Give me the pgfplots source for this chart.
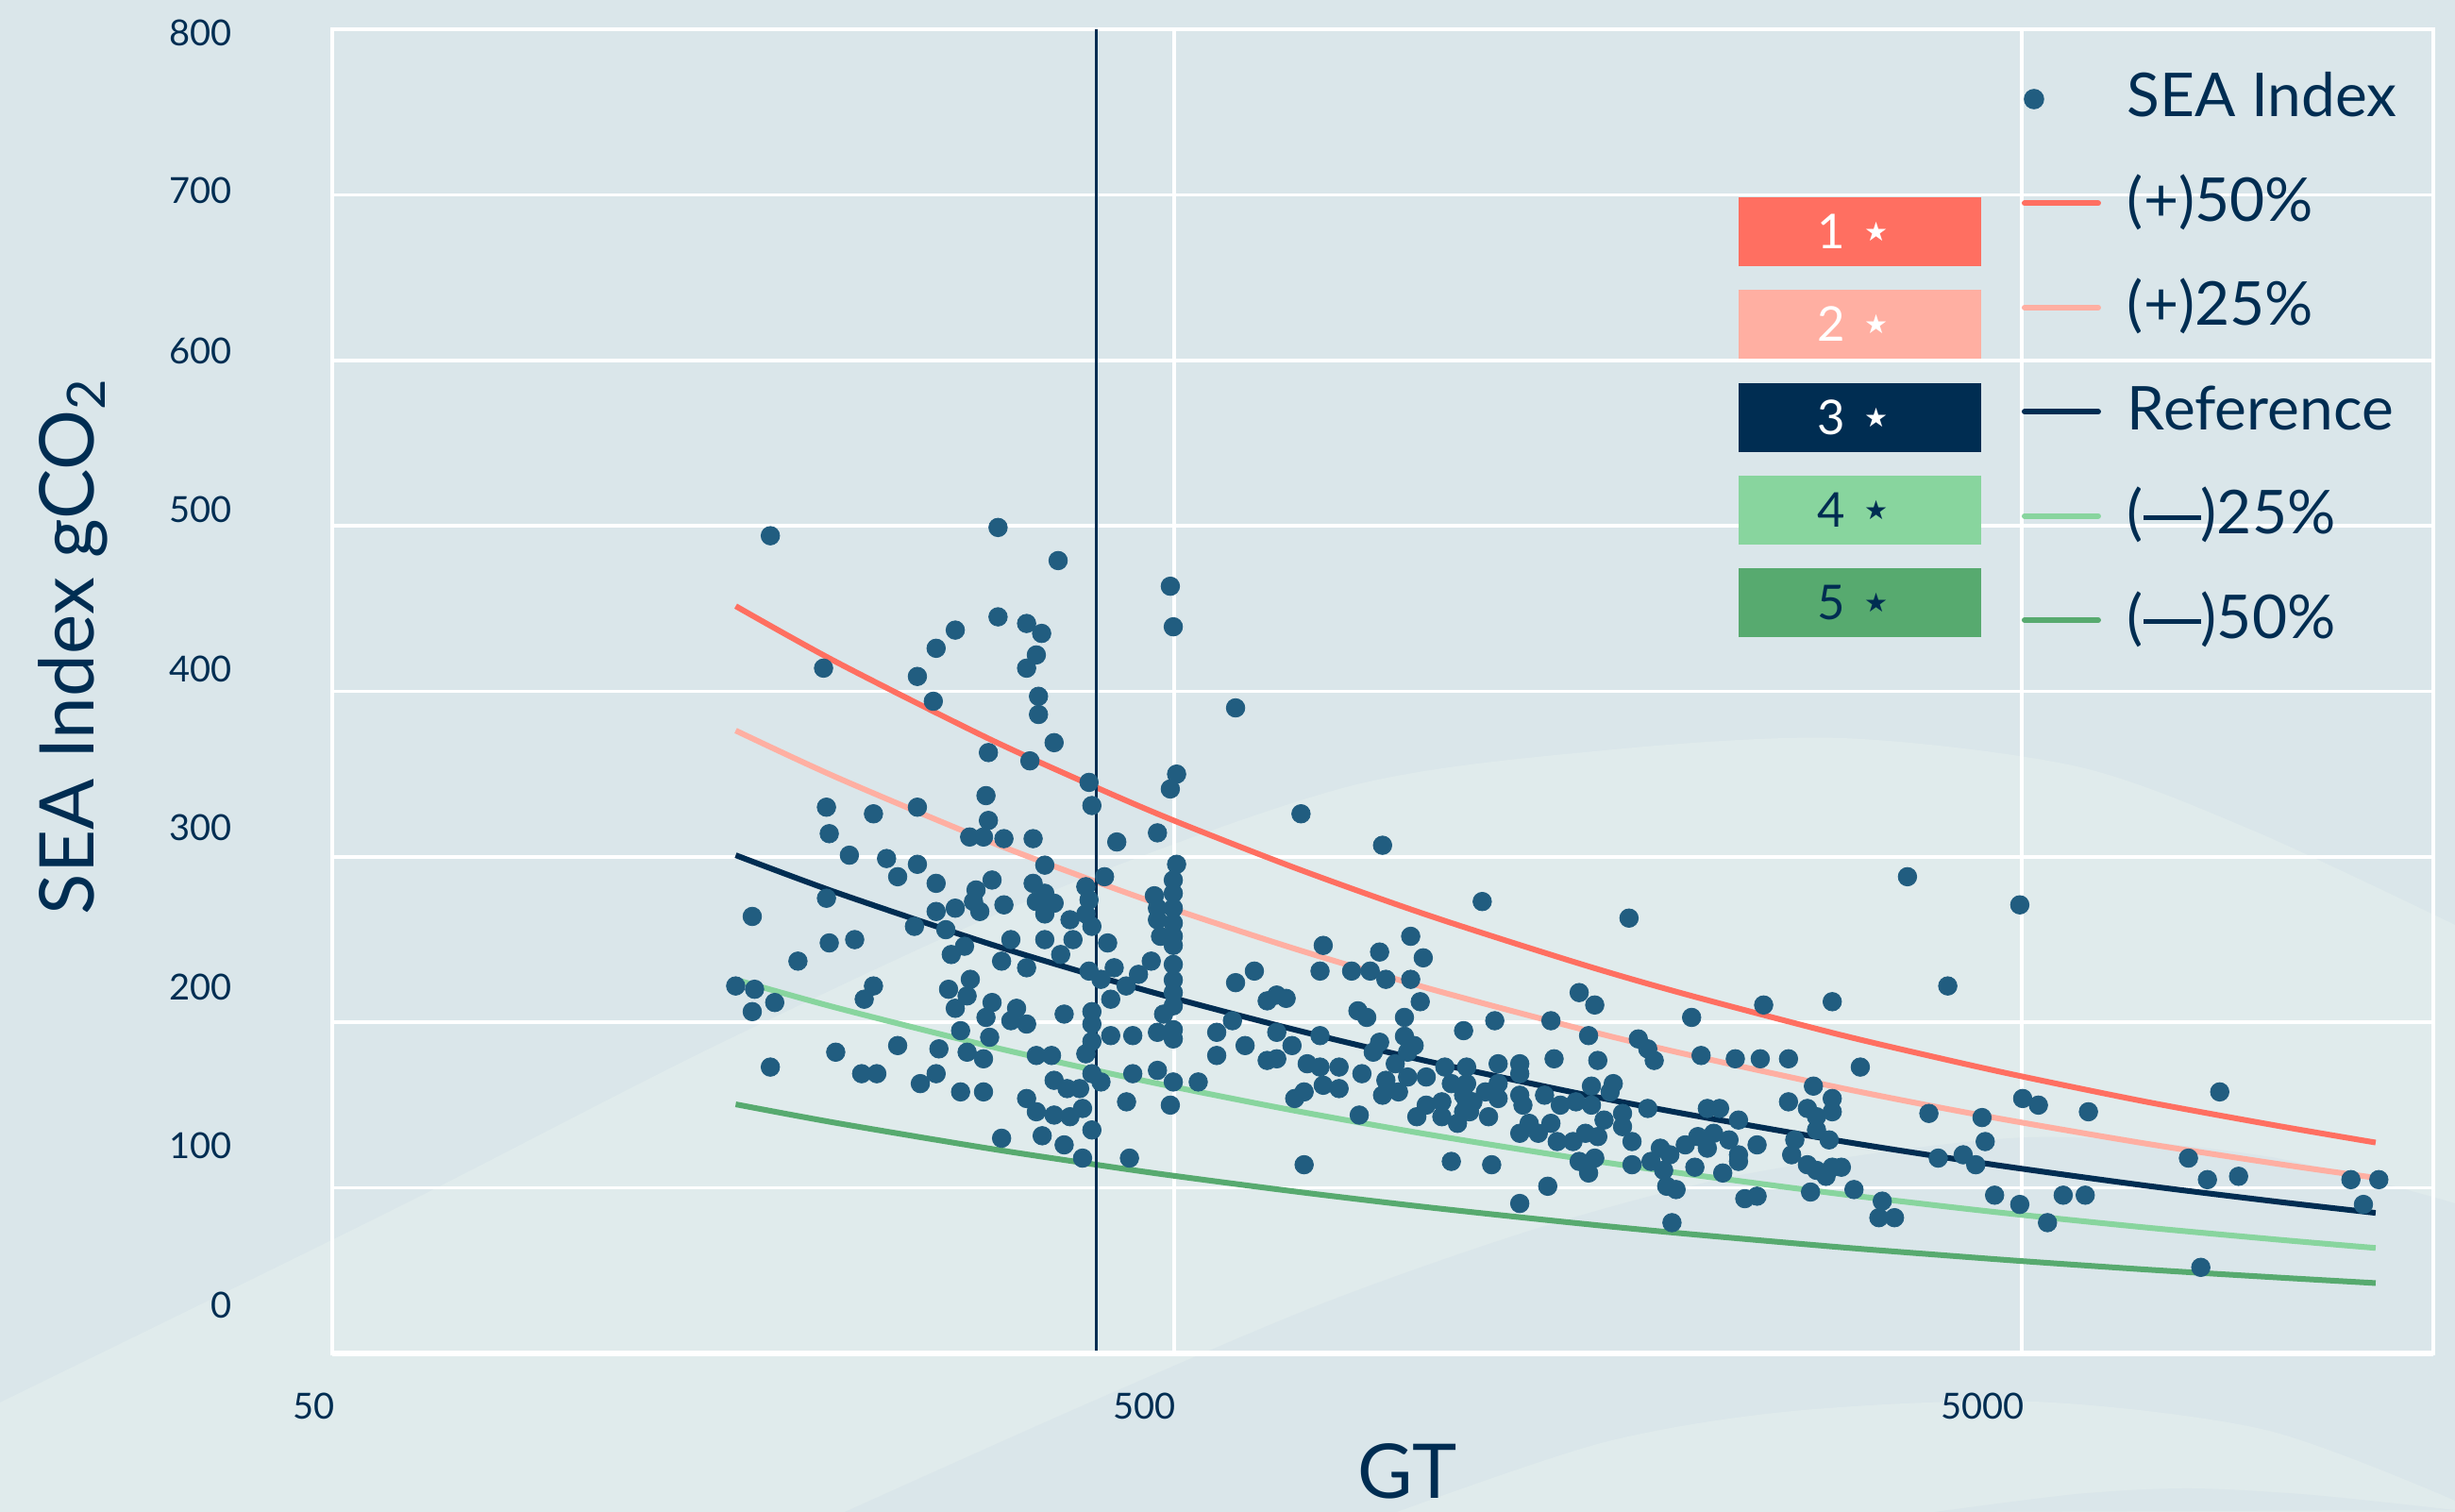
\documentclass[border=0pt]{standalone}
\usepackage{pgfplots}
\pgfplotsset{compat=1.18}
\usepackage{pgfplotstable}
\usepackage{fontspec}
\setmainfont{Lato}
\newfontfamily\symfont{DejaVu Sans}
\definecolor{bgA}{RGB}{218,230,234}
\definecolor{bgB}{RGB}{224,235,236}
\definecolor{navy}{RGB}{0,45,82}
\definecolor{dotc}{RGB}{33,93,128}
\definecolor{cpf}{RGB}{255,111,97}
\definecolor{cpt}{RGB}{255,175,162}
\definecolor{cmt}{RGB}{136,213,158}
\definecolor{cmf}{RGB}{87,170,111}
\newcommand{\boxtxt}[1]{\fontsize{12.7}{14}\selectfont #1\hspace{5pt}\raisebox{2pt}{\symfont\fontsize{7}{8}\selectfont ★}}
\newcommand{\emd}{\rule[0.23em]{0.95em}{0.08em}}

\pgfplotstableread{
x ref p50 p25 m25 m50
152 301.0 451.5 376.3 225.8 150.5
200 278.4 417.6 348.0 208.8 139.2
300 248.1 372.2 310.1 186.1 124.1
400 228.7 343.1 285.9 171.5 114.4
500 214.6 321.9 268.3 161.0 107.3
700 195.1 292.7 243.9 146.3 97.6
1000 176.3 264.5 220.4 132.2 88.2
1500 157.1 235.7 196.4 117.8 78.6
2000 144.8 217.2 181.0 108.6 72.4
3000 129.0 193.5 161.3 96.8 64.5
4000 118.9 178.4 148.6 89.2 59.5
5000 111.6 167.4 139.5 83.7 55.8
7000 101.4 152.1 126.8 76.1 50.7
10000 91.7 137.6 114.6 68.8 45.9
13080 84.9 127.4 106.1 63.7 42.5
}\curves

\pgfplotstableread{
x y
167 494
310 499
365 479
310 445
335 441
349 435
276 437
262 426
344 422
335 414
193 414
249 409
260 394
346 397
346 386
361 369
302 363
338 358
300 337
302 322
194.5 330
221 326
249 330
196 314
287 312
298 312
315 311
341 311
352 295
207 301
229 299
249 295.5
236 288
262 284
292 280
305 286
341 284
352 278
290 273
315 271
344 273
352 265.5
295 267
276 269
262 267
194.5 275
159 264
247 258
269 256
283 246
273 241
321 250
352 250
367.5 241
313 237
335 233
196 248
210 250
180 237
152 222
160 220
169 212
159 206.5
221 222
215.5 214
271 220
287.5 226
285 216
276 208.5
305 212
300 203
326 208.5
321 201
335 199
280 195
303 191
285 182
298 178
264 184
236 186
199.5 182
167 173
214 169
223 169
251 163
262 169
280 158
298 158
344 180
358.5 180
361 165
335 154
344 146
361 144
313 130
349.5 131.5
495 463.5
499 439
591 390
397 345
400 331
503.5 350
495 341
706 326
428 309
478 314.5
503.5 295.5
414 288
393.5 282
499 286
499 278
474 276.5
397 274
361 272
377 262
393.5 265.5
400 258
380 250
417.5 248
478 269
499 269
478 262
499 260
482 252
499 252
499 246.5
499 235
499 225.6
499 218
499 210
486 205
470 237
454 229
439 222
425 233
421 214
397 231
410 226
371 205
400 206.5
400 199
400 188.5
393.5 181
421 192
447 192
478 194
499 195.6
499 190
374 160
387 160
400 169
410 164
447 169
478 171
499 164
534 164
439.5 152
495 150
390 148
377 143
371 126
400 135
390 118
443 118
561.5 194
561.5 180
586 201
606.5 186
591 224
622 231
644 213
661 216.5
678 214.5
661 194
644 177
661 178
689 186
750 246.5
743.5 231
810 231
824 207
743.5 192
718 175
743.5 173
783 173
833 169
750 162
783 160
712 158
694 154
827 144
712 114
881 307
1155 273
1721 263
951 252
874 242.5
984 239
852 231
889 226
951 226
976 212.5
844 203
935 203
1503 218
1568 210.5
2481 210.5
2040 203
1195 201
1392 201
1098 195
935 191.6
874 188
960 186
859 182
943 182
1542 192
1765 190
1811 184
1843 177
2093 180
2297 178
2458 178
1404 178
1581 177
912 175
889 165
943 167
992 167
1043.5 173
1107 173
1206 175
1279 175
1279 169
1062 163
1107 163
1206 163
881 156
920 158
1098 156
1165 158
1206 154
1107 150
1126 152
1035 152
992 150
967 143
1035 143
1080 139
1098 146
1116 146
1175 143
1279 156
1290 150
1368 156
1428 150
1490 152
1554 150
1554 161.5
1649 163
1635 158
1691 145
1811 148
1691 137
1608 141
1279 133
1312 139
1345 133
1392 139
1416 128
1478 128
1529 133
1581 131
1735 128
1568 118
1503 116
1542 109
1735 114
1827 116
1874 124
1923 120
1891 110.6
1907 101
1956 99
2005 126
2075 131
2129 148
2201 148
2129 124
2166 133
2258 129
2317 141
2317 120
2317 116
2058 112.5
2220 109
2437 126
2357 93.5
2437 95
1380 101
1279 90.6
1062 116
1185 114
1934 79
3667 288
4975 271
4091 222
2989 212.5
2654 178
3226 173
2840 161.5
2654 152
2989 154
2794 148
2989 146
2864 143
2864 135
2700 129
2964 129
2677 120
2794 114
2864 110.6
2939 107
2989 112.5
3064 112.5
2818 97.5
3171 99
3424 92
3393 82
3540 82
3887 145
3987 118
4266 120
4414 114
4490 142.5
4529 128
4646 95.6
4975 90
5364 79
5014 154
5233 150
5995 146
5598 95.6
5943 95.6
8564 158
7868 118
8282 105
9014 107
12230 105
13194 105
12654 90
8135 52
}\sea

\begin{document}
\begin{tikzpicture}
% decorative background
\begin{scope}[shift={(-88pt,358.5pt)}, x=0.25pt, y=-0.25pt]
\fill[bgA] (0,0) rectangle (2601,1602);
\fill[bgB] plot[smooth] coordinates {(0,1486) (420,1280) (760,1107) (1100,950) (1430,833) (1700,795) (1950,782) (2200,812) (2387,880) (2601,980)} -- (2601,1602) -- (0,1602) -- cycle;
\fill[bgA] plot[smooth] coordinates {(895,1602) (1150,1488) (1404,1380) (1640,1298) (1860,1242) (2150,1205) (2400,1225) (2601,1275)} -- (2601,1602) -- cycle;
\fill[bgB] plot[smooth] coordinates {(1480,1602) (1700,1528) (1900,1495) (2154,1485) (2400,1515) (2601,1590)} -- (2601,1602) -- cycle;
\fill[bgA] plot[smooth] coordinates {(2050,1602) (2200,1583) (2320,1577) (2450,1584) (2601,1600)} -- cycle;
\end{scope}

\begin{axis}[
  name=ax,
  scale only axis, width=556.5pt, height=350.75pt,
  xmode=log, xmin=50.8, xmax=15300, ymin=0, ymax=800,
  axis line style={white, line width=0.9pt},
  grid=major, major grid style={white, line width=0.9pt},
  xtick={500,5000}, xticklabels={},
  ytick={0,100,...,800}, yticklabels={},
  major tick length=0pt, minor tick length=0pt, tick style={draw=none},
  extra x ticks={50.9,461,4497},
  extra x tick labels={\makebox[0pt]{50\hspace{10pt}},500,5000},
  extra y ticks={29.1,125.4,221.2,317.6,413.3,509.7,605.5,702.3,797.8},
  extra y tick labels={0,100,200,300,400,500,600,700,800},
  extra tick style={grid=none, major tick length=0pt},
  /pgf/number format/assume math mode=true,
  xticklabel style={font=\fontsize{9.5}{11}\selectfont, text=navy, inner sep=0pt, anchor=center, yshift=-14pt},
  yticklabel style={font=\fontsize{9.5}{11}\selectfont, text=navy, inner sep=0pt, anchor=east, xshift=-26.5pt},
  xlabel={GT},
  ylabel={SEA Index gCO\textsubscript{2}},
  xlabel style={at={(axis description cs:0.5117,-0.089)}, anchor=center, inner sep=0pt, font=\fontsize{20}{24}\selectfont, text=navy},
  ylabel style={at={(axis description cs:-0.11366,0.3307)}, anchor=base west, inner sep=0pt, font=\fontsize{20}{24}\selectfont, text=navy},
  legend cell align=left,
  legend style={at={(axis description cs:0.8032,0.9722)}, anchor=north west, draw=none, fill=none, inner sep=0pt, outer sep=0pt, row sep=10.1pt, font=\fontsize{16}{19}\selectfont, nodes={inner sep=0pt, text height=13.5pt, text depth=4pt, text=navy}},
  legend image code/.code={\draw[#1, line cap=round] (0.5pt,0pt) -- (20pt,0pt); \path (0pt,0pt) (27pt,0pt);},
]
\addlegendimage{legend image code/.code={\fill[dotc] (3pt,0pt) circle (2.5pt); \path (0pt,0pt) (27pt,0pt);}}
\addlegendentry{SEA Index}
\addplot[cpf, line width=1.5pt, smooth] table[x=x, y=p50] {\curves};
\addlegendentry{(+)50\%}
\addplot[cpt, line width=1.5pt, smooth] table[x=x, y=p25] {\curves};
\addlegendentry{(+)25\%}
\addplot[navy, line width=1.5pt, smooth] table[x=x, y=ref] {\curves};
\addlegendentry{Reference}
\addplot[cmt, line width=1.5pt, smooth] table[x=x, y=m25] {\curves};
\addlegendentry{(\emd)25\%}
\addplot[cmf, line width=1.5pt, smooth] table[x=x, y=m50] {\curves};
\addlegendentry{(\emd)50\%}
\addplot[dotc, only marks, mark=*, mark size=2.45pt, mark options={solid, fill=dotc, draw=dotc, line width=0.2pt}, forget plot] table[x=x, y=y] {\sea};
\addplot[navy, line width=0.9pt, forget plot] coordinates {(405,0) (405,800)};
\end{axis}
\draw[white, line width=1.4pt] (ax.south west) -- (ax.south east);

\begin{scope}[shift={(-88pt,358.5pt)}, x=0.25pt, y=-0.25pt]
\fill[cpf] (1842,209) rectangle (2099,282);
\node[text=white] at (1963,245.5) {\boxtxt{1}};
\fill[cpt] (1842,307) rectangle (2099,380);
\node[text=white] at (1963,343.5) {\boxtxt{2}};
\fill[navy] (1842,406) rectangle (2099,479);
\node[text=white] at (1963,442.5) {\boxtxt{3}};
\fill[cmt] (1842,504) rectangle (2099,577);
\node[text=navy] at (1963,540.5) {\boxtxt{4}};
\fill[cmf] (1842,602) rectangle (2099,675);
\node[text=navy] at (1963,638.5) {\boxtxt{5}};
\end{scope}
\pgfresetboundingbox
\path[use as bounding box] (-88pt,-42pt) rectangle (562.25pt,358.5pt);
\end{tikzpicture}
\end{document}
